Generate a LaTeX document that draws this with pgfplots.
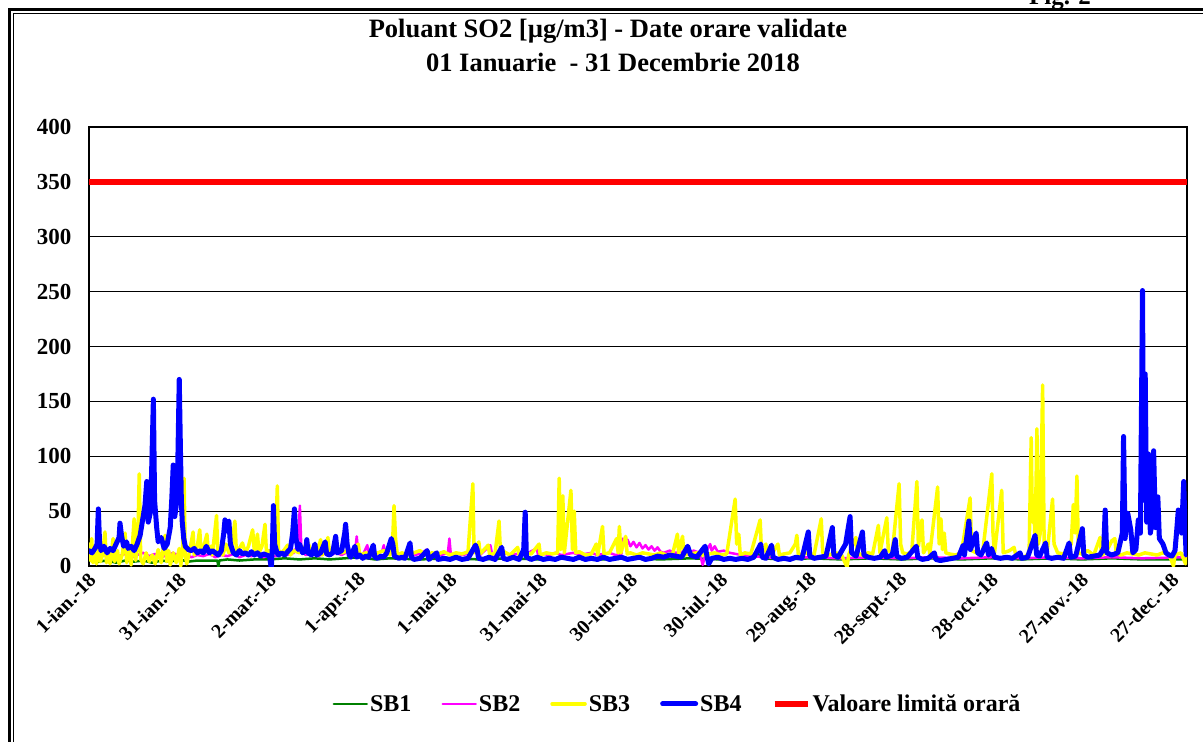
\documentclass[border=0pt]{standalone}
\usepackage{fontspec}
\setmainfont{Liberation Serif}
\usepackage{pgfplots}
\pgfplotsset{compat=1.18}
\usepackage{pgfplotstable}

\definecolor{sbgreen}{RGB}{0,128,0}
\definecolor{sbmag}{RGB}{255,0,255}
\definecolor{sbyel}{RGB}{255,255,0}
\definecolor{sbblue}{RGB}{0,0,255}
\definecolor{sbred}{RGB}{255,0,0}

\pgfplotstableread{
x y
0 5
3 4
6 5
9 3
12 5
15 4
18 5
21 3
24 5
27 4
30 6
33 4
36 5
39 5
42.7 5
43 -1
43.3 5
46 6
50 5
55 6
60 6
65 7
70 6
75 7
80 6
85 7
90 8
95 6
100 7
110 6
120 7
130 6
140 7
150 6
160 7
170 6
180 7
190 6
200 7
210 6
220 8
222 12
224 7
230 6
240 7
250 6
260 7
270 6
280 7
290 6
300 7
310 6
320 7
330 6
340 7
350 6
365 6
}\sbone

\pgfplotstableread{
x y
0 10
2 8
4 11
6 9
8 12
10 9
12 11
14 8
16 10
18 12
20 9
22 11
24 8
26 10
28 12
30 9
32 11
34 8
36 10
38 9
40 11
42 8
44 10
46 9
48 11
50 8
52 10
54 9
56 11
58 8
60 10
62 9
64 11
66 10
68 12
69.5 20
70.1 55
70.6 15
72 10
74 12
76 9
78 11
80 10
82 12
84 10
86 13
88.5 15
89 27
89.5 12
91 10
92.5 19
93 11
95 10
97.5 14
98 19
98.5 10
100 12
102 10
104 11
106 12
108 10
110 11
112.4 15
113 10
115 12
117 10
119.3 12
119.8 25
120.3 10
122 12
124 10
126 11
128 13
130 10
133.4 19
134 11
136 10
138 12
140 10
142 11
144 10
146 12
148.8 16
149.3 10
151 11
153 10
155 12
157 10
159 11
161 12
163 10
165 11
167 12
169 10
171 11
173 12
175 10
177 11
177.5 25
178 20
179 24
180 18
181 22
182 17
183 21
184 16
185 19
186 15
187 18
188 14
189 17
190 13
191 12
193 14
195 12
197 13
199 12
201 14
203 12
204 1
205 12
206.5 20
207 14
208 18
209 13
211 14
213 12
215 11
217 10
220 9
225 8
230 7
240 8
250 7
260 8
270 7
280 8
290 7
300 8
310 7
320 8
330 7
340 8
350 7
365 8
}\sbtwo

\pgfplotstableread{
x y
0 20
0.5 5
0.9 25
1.3 3
2 12
2.5 2
3.3 18
3.8 4
4.5 10
5.3 31
5.8 3
6.5 12
7 2
8 25
8.5 4
9.5 14
10 2
11 10
12 30
12.5 3
13.5 15
14 1
15 43
15.5 5
16.2 20
16.7 84
17.2 6
18 2
19 12
20 4
21 10
22 2
23 15
24 3
25.3 28
25.8 4
26.5 14
27 1
28 12
29 3
30 16
30.5 0
31.2 20
31.6 80
32 10
32.5 2
33.5 14
34.6 31
35 10
36 18
36.8 33
37.3 12
38 16
39.2 29
39.7 12
40.5 18
41 10
42.4 46
42.8 12
43.5 16
44.5 10
45.5 20
46.5 12
47.5 18
48.5 41
49 12
50 16
51 21
52 12
53 18
54.4 33
55 12
56 29
56.5 12
57.5 18
58.5 38
59 12
60 14
61 10
62 20
62.6 73
63 14
64 12
65 15
66 19
67 10
68 14
70 12
71 16
73 20
74 10
76 14
77 24
77.5 10
78.5 14
79.4 26
80 10
82 14
84 12
86 14
88 12
89.5 20
90 10
92 12
94 10
96 12
98 14
100 10
100.9 20
101.4 55
101.9 25
102.5 10
104 12
106 10
108 12
110 14
112 10
114 12
116 11
118 13
120 10
122 12
124 11
126 13
127.6 75
128 12
129.6 22
130 11
132.7 19
133.2 10
135 12
136.3 41
136.8 11
138 13
140 10
142.5 17
143 10
145 12
147 11
149.6 20
150 10
152 12
154 11
155.8 12
156.3 80
156.8 15
157.5 64
158 12
160.2 69
160.7 15
161.3 50
161.8 12
163 13
165 10
167 11
168.6 20
169.1 10
170.7 36
171.2 11
173 12
175.4 25
175.9 12
176.3 36
176.8 12
178.4 27
178.9 11
180 12
182 10
184 12
186 11
188 10
190 12
192 10
194 11
195.6 29
196 11
197.3 27
197.8 10
200 11
202 12
204 10
206 11
208 12
210 10
212 11
214.8 61
215.3 20
216 29
216.5 10
218 12
220 11
223.1 42
223.6 10
225 20
225.5 9
227 11
229 20
229.5 10
231 11
233 12
234.8 20
235.3 28
235.8 10
237 11
239 12
241 10
243.4 43
243.9 12
246 10
248 12
250 11
252 -1
252.5 10
254.9 26
255.4 12
257 10
259 12
260.5 11
262.4 37
262.9 12
265.2 44
265.7 14
267 12
269.3 75
269.8 20
270.5 12
272 11
273.5 13
275.2 77
275.7 18
276.9 42
277.4 12
279 20
279.5 11
282.1 72
282.6 20
283.2 43
283.7 15
284.3 30
284.8 12
286 11
288 10
290 12
292.9 62
293.4 14
295 12
297 11
300.1 84
300.5 30
301 12
303.4 69
303.9 12
306 14
307.5 17
308 11
310 9
311 8
312.5 12
313.2 117
313.6 40
314 62
314.5 20
315.1 125
315.6 20
316.2 30
317 165
317.5 20
318.5 12
320.3 61
320.8 20
322 12
324 11
326.5 20
327.2 56
327.8 30
328.4 82
328.9 12
330 11
332 14
334 10
336.1 26
336.6 10
338 12
340 23
341 25
341.5 11
343 10
345 12
347 11
349 10
351 12
353 11
355 10
357 12
359 11
360.5 0
361 10
363 12
364.5 2
365 8
}\sbthree

\pgfplotstableread{
x y
0 14
1 12
2 16
2.7 20
3.1 52
3.5 22
4 14
5 18
6 12
7 16
8 14
9 20
10 26
10.3 39
10.8 28
11.5 18
12.5 22
13 16
14 18
15 14
16 20
17 28
18 45
18.6 55
19.2 77
19.7 40
20.5 50
21.4 152
21.8 60
22.5 35
23 22
24 26
25 16
26 20
27 35
27.5 60
28 92
28.5 45
29 55
29.5 90
30 170
30.3 121
30.7 60
31 40
31.5 25
32 18
33 15
34 14
35 16
36 12
37 14
38 12
39 18
40 12
41 14
42 12
43 10
44 14
44.8 30
45.2 42
45.7 32
46.2 40
46.5 41
47 20
48 12
49 10
50 14
51 11
52 12
53 10
54 13
55 10
56 12
57 9
58 11
59 10
60 9
60.6 -2
61 20
61.3 55
61.7 20
62.5 12
63 10
64 12
65 10
66 13
67 16
67.7 30
68.3 52
68.8 25
69.5 15
70 20
71 12
72 14
72.4 24
72.8 12
74 10
75.1 20
75.6 10
77 12
78.5 22
79 11
80 10
81 12
82 27
82.5 12
84 14
85 30
85.3 38
85.8 20
86.5 10
87 8
88.4 18
89 8
90 10
91 7
92 9
93 8
94.5 19
95 8
96 7
97 9
98 8
99 12
100.5 25
101 20
101.5 9
103 7
104 8
105 7
106.7 21
107.2 8
108 6
110 7
112.4 14
113 6
115.6 12
116 6
118 7
120 6
122 8
124 6
126 7
128.5 19
129 15
129.5 7
131 6
133 8
135 6
137.2 17
137.7 7
139 6
141 8
143 6
144.5 15
145 49
145.4 8
147 6
149 8
151 6
153 7
155 6
157 8
159 7
161 6
163 8
165 6
167 7
169 6
171 8
173 6
175 7
177 8
179 6
181 7
183 8
185 6
187 7
189 9
191 8
193 10
195 9
197 8
199 18
200 10
202 8
204.8 18
205.5 8
206 2
207 7
209 8
211 6
213 7
215 6
217 7
219 6
221 8
223.3 20
223.8 8
225 7
226.9 19
227.4 8
229 6
231 7
233 6
235 8
237 7
239.1 31
239.6 9
241 7
243 8
245 9
247.1 35
247.6 10
249 8
251.5 20
253 45
253.5 12
255 9
257.1 31
257.6 10
259 8
261 7
263 8
264.5 14
265 8
267 10
268 24
268.5 9
270 7
272 8
275 18
275.5 8
277 6
279 7
281 12
281.5 6
283 5
285 6
287 7
289 8
290.6 19
291 10
292.5 41
293 15
294.9 30
295.4 12
296.5 10
298.4 21
299 10
300 16
301 8
303 7
305 8
307 7
309.5 12
310 7
312 8
314.5 28
315 10
316 9
318 21
318.5 8
320 7
322 8
324 7
325.8 21
326.3 8
328 9
330.2 34
330.7 10
332 8
334 9
336 10
337.3 16
337.8 51
338.3 12
340 10
342 12
343.5 30
343.9 118
344.4 25
345.3 48
346.3 33
347 12
348 15
348.8 42
349.5 30
350.2 251
350.6 60
351.1 175
351.6 40
352.2 102
352.8 30
353.4 40
353.9 105
354.5 35
355.3 63
355.8 25
357 20
358 12
359 10
360 9
361 14
361.5 30
362.1 51
362.6 40
363.2 30
363.9 77
364.3 38
364.7 10
365 12
}\sbfour

\pgfplotstableread{
x y
0 350
365 350
}\limit

\newcommand{\tickfont}{\bfseries\fontsize{23}{27}\selectfont}

\begin{document}
\begin{tikzpicture}
\path[use as bounding box] (0pt,0pt) rectangle (1203pt,-742pt);
\draw[line width=2.5pt] (9.5pt,-800pt) -- (9.5pt,-9.5pt) -- (1300pt,-9.5pt);
\draw[line width=1pt] (13pt,-800pt) -- (13pt,-13pt) -- (1300pt,-13pt);
\node[font=\bfseries\fontsize{25}{30}\selectfont, anchor=base] at (1060pt,-4pt) {Fig. 2};
\node[font=\bfseries\fontsize{26.5}{31}\selectfont] at (608pt,-31pt) {Poluant SO2 [µg/m3] - Date orare validate};
\node[font=\bfseries\fontsize{26.5}{31}\selectfont] at (613pt,-62pt) {01 Ianuarie\ \ - 31 Decembrie 2018};
\begin{axis}[
  at={(89pt,-566pt)}, anchor=south west,
  scale only axis, width=1098pt, height=439pt,
  xmin=0, xmax=365, ymin=0, ymax=400,
  ytick={0,50,...,400},
  xtick={0,30,...,360},
  xticklabels={1-ian.-18,31-ian.-18,2-mar.-18,1-apr.-18,1-mai-18,31-mai-18,30-iun.-18,30-iul.-18,29-aug.-18,28-sept.-18,28-oct.-18,27-nov.-18,27-dec.-18},
  ymajorgrids,
  grid style={black, line width=1pt},
  axis line style={black, line width=1.3pt},
  major tick length=0pt,
  /pgf/number format/assume math mode=true,
  ticklabel style={font=\tickfont},
  yticklabel style={anchor=east, xshift=-14pt},
  xticklabel style={rotate=45, anchor=east, yshift=-10pt, xshift=-2pt, font=\bfseries\fontsize{20}{24}\selectfont},
  legend columns=5,
  legend style={at={(0.536,-0.314)}, anchor=center, draw=none, fill=none,
    font=\bfseries\fontsize{24}{28}\selectfont,
    /tikz/every even column/.append style={column sep=28pt}},
  legend image code/.code={\draw[#1] (0pt,0pt) -- (33pt,0pt);},
  every axis plot/.append style={line join=round, line cap=round},
]
\addplot[sbgreen, line width=2.5pt] table {\sbone};
\addlegendentry{SB1}
\addplot[sbmag, line width=2.5pt] table {\sbtwo};
\addlegendentry{SB2}
\addplot[sbyel, line width=3.5pt] table {\sbthree};
\addlegendentry{SB3}
\addplot[sbblue, line width=5pt] table {\sbfour};
\addlegendentry{SB4}
\addplot[sbred, line width=6pt, line cap=butt] table {\limit};
\addlegendentry{Valoare limită orară}
\end{axis}
\end{tikzpicture}
\end{document}
